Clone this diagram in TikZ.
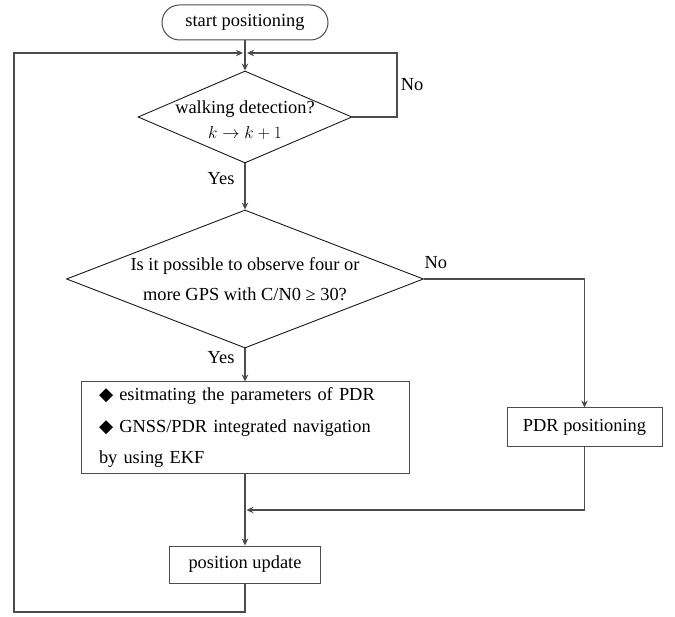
\documentclass[tikz,border=0pt]{standalone}
\usepackage[no-math]{fontspec}
\setmainfont{Liberation Serif}
\newfontfamily\symbfont{DejaVu Sans}
\usepackage{amsmath,amssymb}
\usetikzlibrary{shapes.geometric,arrows.meta,calc}

\begin{document}
\begin{tikzpicture}[x=1pt,y=1pt,
    font=\fontsize{18.4}{31.5}\selectfont,
    flow/.style={draw=black!70, line width=1.1pt, -{Stealth[length=7pt,width=6.5pt]}},
    proc/.style={draw=black!70, line width=1pt, rectangle, inner sep=0pt},
    decision/.style={draw=black!90, line width=0.9pt, diamond, inner sep=0pt}]
    \useasboundingbox (0,0) rectangle (675,-617);

    \node[proc, rounded corners=17.5pt, minimum width=166pt, minimum height=35pt] (start) at (245,-22.5) {start positioning};
    \coordinate (join1) at (245,-53);
    \coordinate (loopL) at (14,-612);
    \coordinate (loopR) at (397,-53);

    % walking check
    \node[decision, minimum width=214pt, minimum height=92pt] (walk) at (245,-117) {};
    \node[align=center, font=\fontsize{18.4}{25}\selectfont] (walktext) at ([yshift=-3pt]walk.center) {walking detection?\\$k \rightarrow k+1$};

    % GPS check
    \node[decision, minimum width=357pt, minimum height=138pt] (gps) at (245,-279) {};
    \node[align=center, font=\fontsize{18.4}{30}\selectfont] (gpstext) at (gps.center) {Is it possible to observe four or\\more GPS with C/N0 ≥ 30?};

    \node[proc, minimum width=328pt, minimum height=92pt, text width=292pt, inner xsep=18pt, align=left] (ekf) at (245,-428) {{\symbfont ◆} esitmating the parameters of PDR\\{\symbfont ◆} GNSS/PDR integrated navigation\\by using EKF};
    \node[proc, minimum width=155pt, minimum height=39pt] (pdr) at (584.5,-427.5) {PDR positioning};
    \node[proc, minimum width=151pt, minimum height=37pt] (upd) at (245,-564.5) {position update};
    \coordinate (join2) at (245,-510);

    % main flow
    \draw[flow] (start) -- (walk);
    \draw[flow] (walk) -- node[left, pos=0.32, inner xsep=10pt] {Yes} (gps);
    \draw[flow] (gps) -- node[left, pos=0.29, inner xsep=10pt] {Yes} (ekf);
    \draw[flow] (ekf) -- (upd);

    % loops back
    \draw[flow, shorten >=2pt] (walk.east) -| node[right, pos=0.75] {No} (loopR) -- (join1);
    \draw[flow, shorten >=2pt] (upd.south) |- (loopL) |- (join1);

    % PDR branch
    \draw[flow] (gps.east) -| node[pos=0, anchor=base west, yshift=10pt, inner sep=0pt] {No} (pdr);
    \draw[flow, shorten >=1.5pt] (pdr) |- (join2);
\end{tikzpicture}
\end{document}
